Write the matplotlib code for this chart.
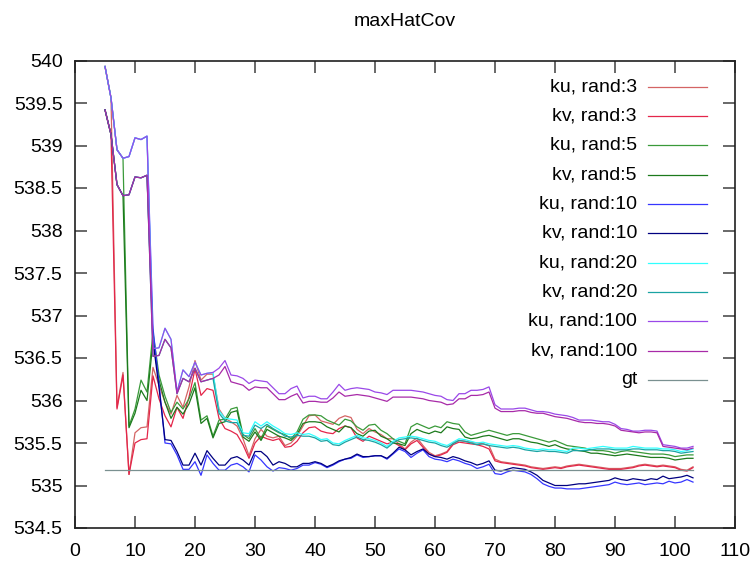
import matplotlib
matplotlib.use("Agg")
import matplotlib.pyplot as plt

plt.rcParams['font.family'] = ['Liberation Sans', 'DejaVu Sans']

x = list(range(5, 104))

ku3 = [539.93, 539.56, 535.92, 536.33, 535.13, 535.62, 535.68, 535.69, 536.39, 536.18,
       535.98, 535.84, 536.06, 535.92, 536.16, 536.47, 536.24, 536.31, 536.31, 535.90,
       535.79, 535.75, 535.70, 535.55, 535.35, 535.55, 535.66, 535.58, 535.56, 535.58,
       535.47, 535.50, 535.58, 535.70, 535.82, 535.83, 535.76, 535.74, 535.72, 535.79,
       535.82, 535.80, 535.66, 535.61, 535.67, 535.63, 535.60, 535.55, 535.55, 535.49,
       535.43, 535.51, 535.56, 535.47, 535.39, 535.35, 535.37, 535.40, 535.50, 535.53,
       535.52, 535.51, 535.50, 535.49, 535.47, 535.31, 535.28, 535.27, 535.26, 535.25,
       535.24, 535.22, 535.21, 535.20, 535.21, 535.22, 535.21, 535.23, 535.24, 535.25,
       535.24, 535.23, 535.22, 535.21, 535.20, 535.20, 535.20, 535.21, 535.22, 535.24,
       535.25, 535.24, 535.23, 535.24, 535.23, 535.22, 535.19, 535.18, 535.22]
kv3 = [539.42, 539.13, 535.90, 536.30, 535.13, 535.50, 535.54, 535.55, 536.29, 536.02,
       535.82, 535.69, 535.92, 535.79, 536.04, 536.37, 536.06, 536.14, 536.12, 535.79,
       535.67, 535.64, 535.60, 535.48, 535.32, 535.50, 535.58, 535.55, 535.53, 535.55,
       535.45, 535.46, 535.52, 535.62, 535.68, 535.69, 535.64, 535.62, 535.61, 535.67,
       535.70, 535.68, 535.56, 535.52, 535.58, 535.55, 535.52, 535.49, 535.51, 535.47,
       535.42, 535.49, 535.53, 535.45, 535.37, 535.34, 535.36, 535.39, 535.48, 535.51,
       535.50, 535.49, 535.48, 535.46, 535.43, 535.29, 535.27, 535.26, 535.25, 535.24,
       535.23, 535.21, 535.20, 535.19, 535.20, 535.21, 535.20, 535.22, 535.23, 535.24,
       535.23, 535.22, 535.21, 535.20, 535.19, 535.19, 535.19, 535.20, 535.21, 535.23,
       535.24, 535.23, 535.22, 535.23, 535.22, 535.21, 535.18, 535.17, 535.21]
ku5 = [539.93, 539.56, 538.95, 538.85, 535.70, 535.90, 536.24, 536.10, 536.80, 536.30,
       536.05, 535.86, 535.98, 535.90, 536.02, 536.21, 535.77, 535.82, 535.58, 535.77,
       535.78, 535.90, 535.92, 535.60, 535.55, 535.67, 535.55, 535.70, 535.66, 535.62,
       535.60, 535.55, 535.63, 535.78, 535.83, 535.83, 535.82, 535.77, 535.74, 535.71,
       535.78, 535.76, 535.69, 535.65, 535.71, 535.72, 535.65, 535.61, 535.55, 535.52,
       535.49, 535.69, 535.73, 535.70, 535.67, 535.70, 535.68, 535.75, 535.73, 535.72,
       535.63, 535.59, 535.61, 535.63, 535.65, 535.63, 535.61, 535.59, 535.61, 535.61,
       535.59, 535.57, 535.55, 535.53, 535.51, 535.53, 535.50, 535.47, 535.46, 535.45,
       535.44, 535.42, 535.41, 535.41, 535.40, 535.38, 535.40, 535.41, 535.40, 535.39,
       535.38, 535.37, 535.37, 535.37, 535.36, 535.34, 535.35, 535.36, 535.36]
kv5 = [539.42, 539.13, 538.54, 538.41, 535.68, 535.85, 536.12, 536.00, 536.70, 536.24,
       535.98, 535.79, 535.92, 535.84, 535.96, 536.15, 535.73, 535.79, 535.56, 535.73,
       535.75, 535.86, 535.88, 535.57, 535.52, 535.63, 535.53, 535.66, 535.62, 535.58,
       535.56, 535.53, 535.60, 535.73, 535.75, 535.75, 535.74, 535.69, 535.66, 535.63,
       535.70, 535.68, 535.61, 535.58, 535.64, 535.65, 535.58, 535.55, 535.50, 535.49,
       535.47, 535.61, 535.66, 535.63, 535.61, 535.64, 535.62, 535.69, 535.67, 535.66,
       535.57, 535.55, 535.56, 535.58, 535.59, 535.57, 535.55, 535.53, 535.55, 535.55,
       535.53, 535.51, 535.50, 535.48, 535.46, 535.48, 535.45, 535.43, 535.42, 535.41,
       535.40, 535.38, 535.38, 535.37, 535.36, 535.35, 535.36, 535.37, 535.36, 535.35,
       535.34, 535.33, 535.33, 535.33, 535.32, 535.30, 535.31, 535.32, 535.32]
ku10 = [539.93, 539.56, 538.95, 538.85, 538.87, 539.09, 539.07, 539.11, 536.85, 536.20,
        535.50, 535.49, 535.36, 535.19, 535.19, 535.28, 535.12, 535.36, 535.26, 535.18,
        535.18, 535.24, 535.26, 535.22, 535.16, 535.36, 535.30, 535.22, 535.17, 535.21,
        535.20, 535.18, 535.20, 535.24, 535.24, 535.27, 535.25, 535.21, 535.24, 535.28,
        535.31, 535.32, 535.36, 535.33, 535.34, 535.35, 535.35, 535.31, 535.37, 535.43,
        535.40, 535.33, 535.38, 535.42, 535.34, 535.31, 535.30, 535.28, 535.31, 535.29,
        535.26, 535.24, 535.20, 535.22, 535.25, 535.14, 535.13, 535.16, 535.18, 535.17,
        535.16, 535.13, 535.08, 535.02, 534.99, 534.97, 534.97, 534.96, 534.96, 534.96,
        534.97, 534.98, 534.99, 535.00, 535.01, 535.04, 535.02, 535.01, 535.02, 535.03,
        535.01, 535.02, 535.03, 535.02, 535.05, 535.03, 535.04, 535.07, 535.04]
kv10 = [539.42, 539.13, 538.54, 538.41, 538.42, 538.63, 538.62, 538.65, 536.70, 536.15,
        535.54, 535.53, 535.40, 535.24, 535.24, 535.38, 535.24, 535.41, 535.32, 535.24,
        535.24, 535.32, 535.34, 535.30, 535.24, 535.40, 535.40, 535.34, 535.24, 535.28,
        535.26, 535.22, 535.22, 535.26, 535.26, 535.28, 535.26, 535.22, 535.25, 535.29,
        535.31, 535.33, 535.37, 535.34, 535.34, 535.35, 535.35, 535.32, 535.38, 535.45,
        535.42, 535.36, 535.40, 535.43, 535.37, 535.34, 535.33, 535.31, 535.34, 535.32,
        535.29, 535.27, 535.24, 535.26, 535.29, 535.18, 535.17, 535.19, 535.21, 535.20,
        535.19, 535.16, 535.12, 535.06, 535.03, 535.00, 535.00, 535.00, 535.01, 535.02,
        535.02, 535.03, 535.04, 535.05, 535.06, 535.09, 535.07, 535.06, 535.08, 535.07,
        535.06, 535.08, 535.07, 535.11, 535.08, 535.09, 535.10, 535.12, 535.09]
ku20 = [539.93, 539.56, 538.95, 538.85, 538.87, 539.09, 539.07, 539.11, 536.61, 536.62,
        536.85, 536.72, 536.10, 536.36, 536.28, 536.45, 536.30, 536.32, 536.33, 535.88,
        535.79, 535.78, 535.77, 535.62, 535.61, 535.75, 535.70, 535.75, 535.70, 535.66,
        535.61, 535.60, 535.62, 535.60, 535.61, 535.58, 535.54, 535.55, 535.50, 535.49,
        535.53, 535.56, 535.59, 535.56, 535.55, 535.53, 535.50, 535.46, 535.52, 535.56,
        535.57, 535.58, 535.57, 535.55, 535.53, 535.52, 535.49, 535.47, 535.51, 535.55,
        535.54, 535.52, 535.50, 535.51, 535.49, 535.48, 535.47, 535.46, 535.47, 535.46,
        535.44, 535.43, 535.42, 535.43, 535.42, 535.42, 535.41, 535.40, 535.44, 535.44,
        535.43, 535.44, 535.45, 535.46, 535.45, 535.44, 535.44, 535.44, 535.46, 535.45,
        535.44, 535.44, 535.44, 535.43, 535.43, 535.42, 535.40, 535.41, 535.43]
kv20 = [539.42, 539.13, 538.54, 538.41, 538.42, 538.63, 538.62, 538.65, 536.52, 536.53,
        536.72, 536.62, 536.08, 536.26, 536.22, 536.38, 536.22, 536.24, 536.26, 535.85,
        535.76, 535.74, 535.74, 535.59, 535.58, 535.71, 535.67, 535.72, 535.67, 535.63,
        535.58, 535.57, 535.59, 535.58, 535.58, 535.56, 535.52, 535.53, 535.48, 535.47,
        535.51, 535.54, 535.57, 535.54, 535.53, 535.51, 535.48, 535.44, 535.50, 535.54,
        535.55, 535.56, 535.55, 535.53, 535.51, 535.50, 535.47, 535.45, 535.49, 535.53,
        535.52, 535.50, 535.48, 535.49, 535.47, 535.46, 535.45, 535.44, 535.45, 535.44,
        535.42, 535.41, 535.40, 535.41, 535.40, 535.40, 535.39, 535.38, 535.41, 535.41,
        535.41, 535.42, 535.43, 535.43, 535.43, 535.42, 535.42, 535.42, 535.43, 535.43,
        535.42, 535.42, 535.42, 535.41, 535.41, 535.40, 535.38, 535.39, 535.40]
ku100 = [539.93, 539.56, 538.95, 538.85, 538.87, 539.09, 539.07, 539.11, 536.61, 536.62,
         536.85, 536.72, 536.10, 536.36, 536.28, 536.45, 536.30, 536.32, 536.33, 536.38,
         536.47, 536.30, 536.29, 536.26, 536.20, 536.24, 536.23, 536.22, 536.15, 536.08,
         536.08, 536.14, 536.17, 536.03, 536.05, 536.05, 536.02, 536.02, 536.10, 536.19,
         536.12, 536.14, 536.15, 536.14, 536.13, 536.10, 536.09, 536.07, 536.12, 536.12,
         536.12, 536.12, 536.11, 536.10, 536.08, 536.06, 536.05, 536.01, 536.00, 536.08,
         536.08, 536.12, 536.12, 536.13, 536.16, 535.95, 535.90, 535.90, 535.90, 535.91,
         535.91, 535.89, 535.87, 535.87, 535.86, 535.84, 535.83, 535.82, 535.80, 535.77,
         535.77, 535.77, 535.76, 535.75, 535.75, 535.72, 535.67, 535.66, 535.64, 535.64,
         535.65, 535.65, 535.64, 535.48, 535.47, 535.46, 535.44, 535.44, 535.46]
kv100 = [539.42, 539.13, 538.54, 538.41, 538.42, 538.63, 538.62, 538.65, 536.52, 536.53,
         536.72, 536.62, 536.08, 536.26, 536.22, 536.38, 536.22, 536.24, 536.26, 536.30,
         536.40, 536.22, 536.20, 536.18, 536.12, 536.16, 536.15, 536.15, 536.08, 536.01,
         536.01, 536.05, 536.08, 535.97, 535.99, 535.99, 535.98, 535.98, 536.03, 536.10,
         536.05, 536.06, 536.07, 536.06, 536.05, 536.03, 536.01, 535.99, 536.04, 536.04,
         536.04, 536.04, 536.03, 536.02, 536.00, 535.99, 535.98, 535.95, 535.96, 536.02,
         536.02, 536.06, 536.06, 536.07, 536.10, 535.91, 535.87, 535.87, 535.87, 535.88,
         535.88, 535.86, 535.85, 535.85, 535.83, 535.81, 535.80, 535.79, 535.77, 535.75,
         535.74, 535.74, 535.73, 535.73, 535.72, 535.70, 535.65, 535.64, 535.63, 535.62,
         535.63, 535.63, 535.62, 535.46, 535.45, 535.44, 535.43, 535.42, 535.44]
gt_value = 535.18

labels = ['ku, rand:3', 'kv, rand:3', 'ku, rand:5', 'kv, rand:5', 'ku, rand:10',
          'kv, rand:10', 'ku, rand:20', 'kv, rand:20', 'ku, rand:100', 'kv, rand:100', 'gt']
series = [ku3, kv3, ku5, kv5, ku10, kv10, ku20, kv20, ku100, kv100, [gt_value] * len(x)]
colors = ['#d46464', '#e4264a', '#3a9a3a', '#1c7a1c', '#3636ff',
          '#000080', '#30ffff', '#1aa3a3', '#9a48e8', '#a82aa8', '#7a9090']

fig = plt.figure(figsize=(7.53, 5.73), dpi=100)
ax = fig.add_axes([75 / 753, 1 - 528 / 573, 660 / 753, 467.5 / 573])

for ys, c in zip(series, colors):
    ax.plot(x, ys, color=c, lw=0.9)

ax.set_xlim(0, 110)
ax.set_ylim(534.5, 540)
ax.set_xticks(range(0, 111, 10))
ax.set_yticks([534.5 + 0.5 * i for i in range(12)])
ax.set_yticklabels(['534.5', '535', '535.5', '536', '536.5', '537', '537.5',
                    '538', '538.5', '539', '539.5', '540'])
ax.tick_params(direction='in', top=True, right=True, length=8.5, width=1.1,
               color='#404040', labelsize=14)
ax.tick_params(axis='x', pad=11)
ax.tick_params(axis='y', pad=9)
for s in ax.spines.values():
    s.set_linewidth(1.2)
    s.set_color('#202020')

# legend drawn by hand, gnuplot style: text right-aligned, sample line after it
for i, (lab, c) in enumerate(zip(labels, colors)):
    py = 86.7 + 29.33 * i
    ya = (528 - py) / 467.5
    ax.plot([(648 - 75) / 660, (707 - 75) / 660], [ya, ya], color=c, lw=0.9,
            transform=ax.transAxes, clip_on=False)
    ax.text((637 - 75) / 660, ya, lab, transform=ax.transAxes, ha='right',
            va='center', fontsize=14)

fig.text(405 / 753, 1 - 22 / 573, 'maxHatCov', ha='center', va='center', fontsize=14)

fig.savefig('out.png', dpi=100)
